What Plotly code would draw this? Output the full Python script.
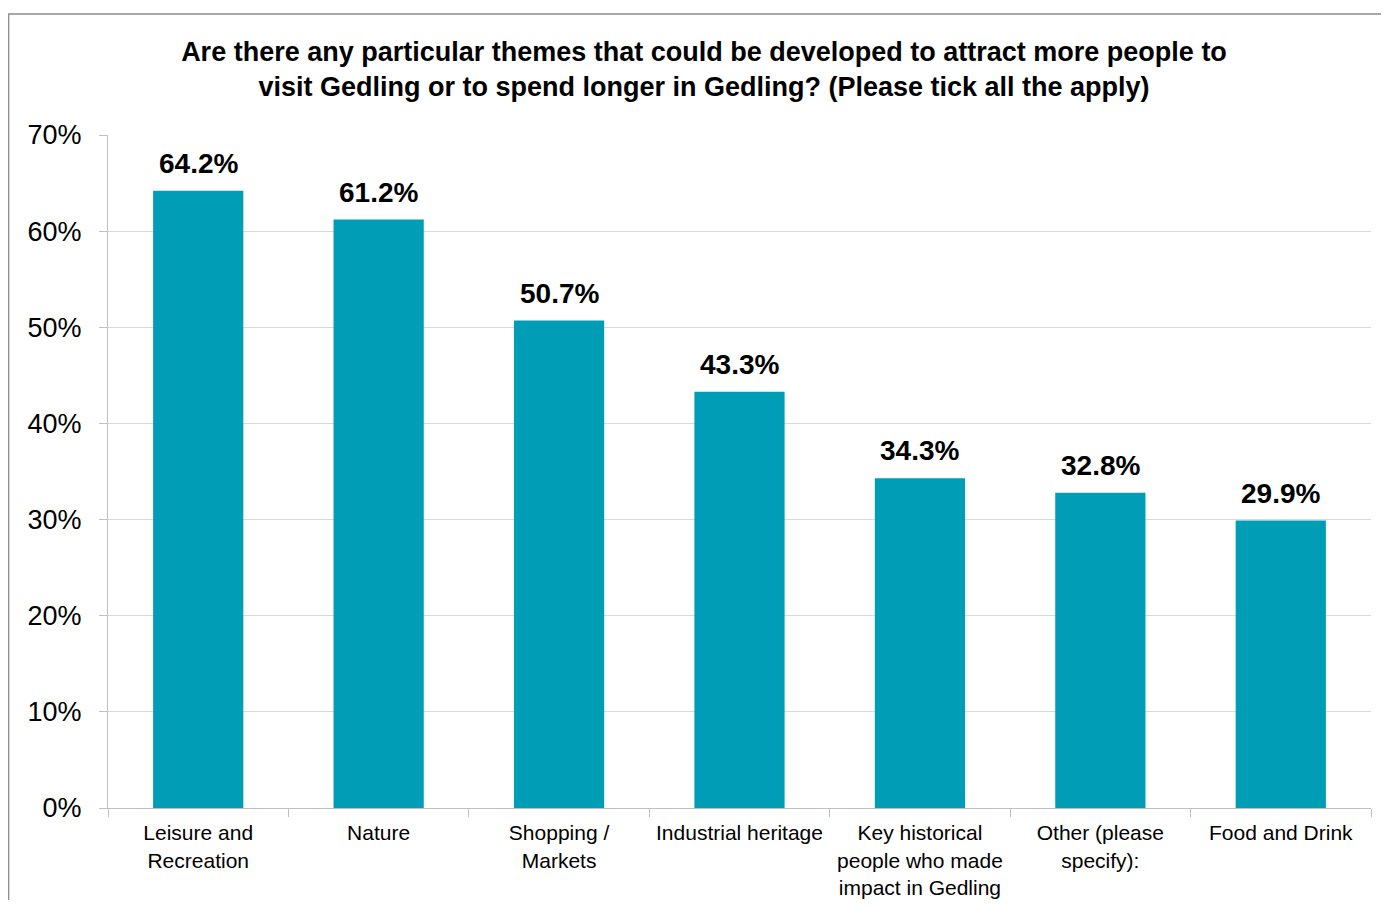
import plotly.graph_objects as go

categories = ["Leisure and<br>Recreation", "Nature", "Shopping /<br>Markets", "Industrial heritage",
              "Key historical<br>people who made<br>impact in Gedling", "Other (please<br>specify):", "Food and Drink"]
values = [0.642, 0.612, 0.507, 0.433, 0.343, 0.328, 0.299]
labels = ["64.2%", "61.2%", "50.7%", "43.3%", "34.3%", "32.8%", "29.9%"]

title_text = ("Are there any particular themes that could be developed to attract more people to<br>"
              "visit Gedling or to spend longer in Gedling? (Please tick all the apply)")

FONT = "Liberation Sans, Arial, sans-serif"
BAR = "#009DB6"

fig = go.Figure(go.Bar(x=categories, y=values, marker=dict(color=BAR, line=dict(width=0)),
                       hoverinfo="skip"))

for c, v, t in zip(categories, values, labels):
    fig.add_annotation(x=c, y=v, text="<b>%s</b>" % t, showarrow=False, yanchor="bottom",
                       yshift=10, font=dict(family=FONT, size=28, color="#000000"))

# page body has an 8px margin
W, H = 1373, 892
L, R, T, B = 100, 10, 127, 92
pw, ph = W - L - R, H - T - B
bx0 = (0.7 - L) / pw
bx1 = (W + 20 - L) / pw
by1 = (H - B - 6) / ph
by0 = (H - B - (H + 20)) / ph
fig.add_shape(type="rect", xref="paper", yref="paper", x0=bx0, x1=bx1, y0=by0, y1=by1,
              line=dict(color="#8c8c8c", width=1.3), fillcolor="rgba(0,0,0,0)", layer="below")

fig.update_layout(
    width=W, height=H,
    margin=dict(l=L, r=R, t=T, b=B, pad=0, autoexpand=False),
    paper_bgcolor="white", plot_bgcolor="white",
    bargap=0.5,
    showlegend=False,
    title=dict(text="<b>%s</b>" % title_text, x=696 / W, xanchor="center", xref="container",
               y=1 - 53 / H, yanchor="top", font=dict(family=FONT, size=27, color="#000000")),
    font=dict(family=FONT, color="#000000"),
)
fig.update_xaxes(type="category", showline=True, linecolor="#bfbfbf", linewidth=1,
                 ticks="outside", tickson="boundaries", ticklen=8, tickcolor="#bfbfbf",
                 tickfont=dict(family=FONT, size=21, color="#000000"), tickangle=0,
                 showgrid=False, ticklabelstandoff=6, automargin=False)
fig.update_yaxes(range=[0, 0.7], dtick=0.1, tickformat=".0%", showline=True, linecolor="#bfbfbf",
                 linewidth=1, ticks="outside", ticklen=8, tickcolor="#bfbfbf",
                 showgrid=True, gridcolor="#d9d9d9", gridwidth=1, zeroline=False,
                 tickfont=dict(family=FONT, size=27, color="#000000"), ticklabelstandoff=12,
                 automargin=False)

fig.write_html("out.html")
